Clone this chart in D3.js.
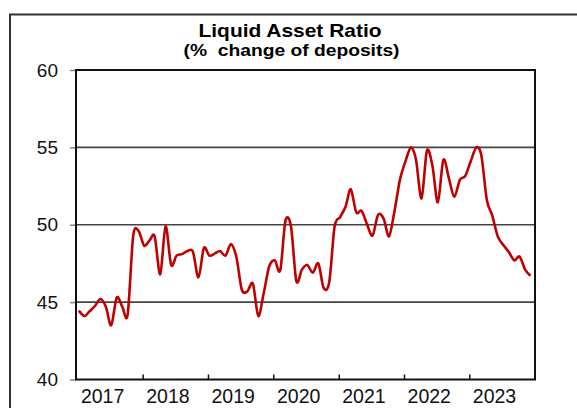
<!DOCTYPE html>
<html>
<head>
<meta charset="utf-8">
<script src="https://cdn.jsdelivr.net/npm/d3@7"></script>
<style>
  html, body { margin: 0; padding: 0; background: #fff; }
  svg { display: block; font-family: "Liberation Sans", Arial, sans-serif; }
</style>
</head>
<body>
<div id="chart"></div>
<script>
// monthly liquid asset ratio, Jan 2017 .. Dec 2023
let startYear = 2017
let ratio = [
  44.45, 44.1, 44.4, 44.75, 45.2, 44.7, 43.5, 45.3, 44.7, 44.2, 49.3, 49.6,   // 2017
  48.65, 49.0, 49.25, 46.8, 49.9, 47.4, 48.0, 48.1, 48.3, 48.25, 46.6, 48.5,  // 2018
  48.0, 48.15, 48.3, 48.0, 48.75, 47.9, 45.8, 45.7, 46.2, 44.1, 45.6, 47.3,   // 2019
  47.7, 47.05, 50.25, 49.9, 46.35, 47.1, 47.4, 46.9, 47.5, 45.9, 46.3, 49.9,  // 2020
  50.5, 51.2, 52.3, 50.8, 50.9, 50.0, 49.3, 50.65, 50.4, 49.25, 50.9, 52.9,   // 2021
  54.1, 55.0, 54.2, 51.7, 54.8, 53.8, 51.45, 54.2, 53.0, 51.8, 52.9, 53.15,   // 2022
  54.1, 55.0, 54.5, 51.6, 50.6, 49.25, 48.7, 48.25, 47.7, 47.95, 47.1, 46.7   // 2023
]
let yearLabels = ["2017","2018","2019","2020","2021","2022","2023"]
let yTicks = [40, 45, 50, 55, 60]
let gridValues = [45, 50, 55]
let title = "Liquid Asset Ratio"
let subtitle = "(%  change of deposits)"

let width = 577, height = 408
let plot = {left: 76, right: 535, top: 70, bottom: 379.5}

let data = ratio.map((v, i) => ({date: new Date(startYear, i, 9), value: v}))

const svg = d3.select("#chart").append("svg").attr("width", width).attr("height", height)

// outer chart frame (runs past the right and bottom edge)
svg.append("rect")
  .attr("x", 10).attr("y", 14.5)
  .attr("width", 600).attr("height", 440)
  .attr("fill", "none").attr("stroke", "#333").attr("stroke-width", 2)

const x = d3.scaleTime()
  .domain([new Date(startYear, 0, 1), new Date(startYear + yearLabels.length, 0, 1)])
  .range([77.4, 534.6])
const y = d3.scaleLinear().domain([40, 60]).range([plot.bottom, plot.top])

// gridlines
svg.append("g").selectAll("line").data(gridValues).join("line")
  .attr("x1", plot.left).attr("x2", plot.right)
  .attr("y1", d => y(d)).attr("y2", d => y(d))
  .attr("stroke", "#444").attr("stroke-width", 1.6)

// y axis
const yAxis = svg.append("g")
  .attr("transform", `translate(${plot.left},0)`)
  .call(d3.axisLeft(y).tickValues(yTicks).tickSize(6).tickPadding(12).tickFormat(d3.format("d")))
yAxis.select(".domain").remove()
yAxis.selectAll(".tick line").attr("stroke", "#888").attr("stroke-width", 1.5)
yAxis.selectAll(".tick text")
  .attr("font-size", 19).attr("fill", "#111")
  .attr("font-family", "'Liberation Sans', Arial, sans-serif")

// x axis ticks (inward, at each new year)
let yearStarts = yearLabels.slice(1).map(d => new Date(+d, 0, 1))
const xAxis = svg.append("g")
  .attr("transform", `translate(0,${plot.bottom})`)
  .call(d3.axisBottom(x).tickValues(yearStarts).tickSize(-5).tickFormat(""))
xAxis.select(".domain").remove()
xAxis.selectAll(".tick line").attr("stroke", "#111").attr("stroke-width", 1.5)

// year labels
svg.append("g").selectAll("text").data(yearLabels).join("text")
  .attr("x", d => x(new Date(+d, 4, 22)))
  .attr("y", 403)
  .attr("text-anchor", "middle")
  .attr("font-size", 19.5)
  .attr("fill", "#111")
  .text(d => d)

// plot frame
svg.append("rect")
  .attr("x", plot.left).attr("y", plot.top)
  .attr("width", plot.right - plot.left).attr("height", plot.bottom - plot.top)
  .attr("fill", "none").attr("stroke", "#111").attr("stroke-width", 2)

// the series
const line = d3.line()
  .x(d => x(d.date))
  .y(d => y(d.value))
  .curve(d3.curveCardinal.tension(0.1))

svg.append("path")
  .datum(data)
  .attr("d", line)
  .attr("fill", "none")
  .attr("stroke", "#C00000")
  .attr("stroke-width", 2.6)
  .attr("stroke-linejoin", "round")

// titles
svg.append("text")
  .attr("x", 290).attr("y", 37)
  .attr("text-anchor", "middle")
  .attr("font-size", 18.5).attr("font-weight", "bold")
  .attr("textLength", 183).attr("lengthAdjust", "spacingAndGlyphs")
  .text(title)

svg.append("text")
  .attr("x", 291.5).attr("y", 56)
  .attr("text-anchor", "middle")
  .attr("font-size", 16).attr("font-weight", "bold")
  .attr("textLength", 216).attr("lengthAdjust", "spacingAndGlyphs")
  .style("white-space", "pre")
  .text(subtitle)
</script>
</body>
</html>
